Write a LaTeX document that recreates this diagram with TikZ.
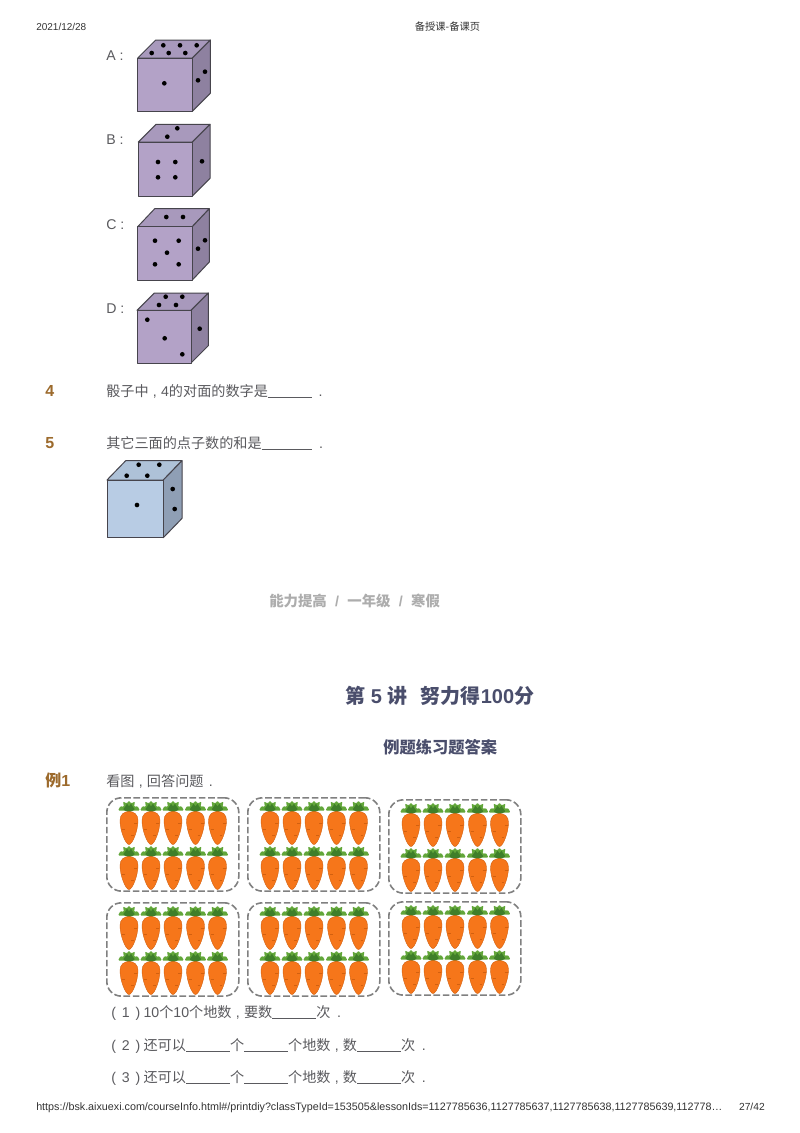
\documentclass[tikz,border=0pt]{standalone}
\usepackage{fontspec}
\setmainfont{Liberation Sans}
\newfontfamily\cjk{Noto Sans CJK SC}
\newcommand{\zh}[1]{{\cjk #1}}
\newcommand{\blankline}[1]{\rule[-1.5pt]{#1}{0.55pt}}
\newcommand{\cm}{\hspace{3.2pt},\hspace{3.2pt}}
\newcommand{\parnum}[1]{(\hspace{4.4pt}#1\hspace{4.4pt})\hspace{2.5pt}}
\definecolor{bodytext}{HTML}{5A5A5E}
\definecolor{brownlabel}{HTML}{9C6A2C}
\definecolor{titleblue}{HTML}{4A4E6C}
\definecolor{edgegrey}{HTML}{46444C}
\definecolor{ptop}{HTML}{A899BC}
\definecolor{pside}{HTML}{8E81A0}
\definecolor{pfront}{HTML}{B3A2C7}
\definecolor{btop}{HTML}{AEC2D8}
\definecolor{bside}{HTML}{8F9FB5}
\definecolor{bfront}{HTML}{B8CCE4}
\definecolor{leafdark}{HTML}{3F7F2A}
\definecolor{leaflight}{HTML}{62A63A}
\definecolor{carrotbody}{HTML}{F6761A}
\definecolor{carrotedge}{HTML}{D2600F}
\tikzset{
  x=0.75pt,y=-0.75pt,
  txt/.style={anchor=base west,inner sep=0pt,text=bodytext,font=\fontsize{10.6pt}{12pt}\selectfont},
  num/.style={anchor=base west,inner sep=0pt,text=brownlabel,font=\bfseries\fontsize{12pt}{14pt}\selectfont},
  small/.style={inner sep=0pt,text=black!80,font=\fontsize{7.7pt}{9pt}\selectfont},
  pip/.style={fill=black,draw=none},
  cubeedge/.style={draw=edgegrey,line width=0.75pt,line join=round},
  groupbox/.style={draw=black!50,line width=1.2pt,dash pattern=on 5pt off 2pt,rounded corners=11pt,
    minimum width=99pt,minimum height=70pt,anchor=north west,inner sep=0pt},
  carrot/.pic={
    \fill[leaflight,rounded corners=0.8pt] (-11,-1) -- (-8.5,-5.5) -- (-5,-4.5) -- (-6,-10) -- (-2,-8) -- (0,-11)
      -- (2,-8) -- (6,-10) -- (5,-4.5) -- (8.5,-5.5) -- (11,-1) -- (3,-1) -- (0,1) -- (-3,-1) -- cycle;
    \fill[leafdark,rounded corners=0.6pt] (-6,-2) -- (-3,-6) -- (-2,-8) -- (0,-5) -- (2,-8) -- (3,-6) -- (6,-2) -- (2,0) -- (-2,0) -- cycle;
    \filldraw[fill=carrotbody,draw=carrotedge,line width=0.3pt]
      (-9,9) .. controls (-9,3) and (-5,0) .. (0,0) .. controls (5,0) and (9,3) .. (9,9)
      .. controls (9,19) and (3.5,33) .. (0,33) .. controls (-3.5,33) and (-9,19) .. (-9,9) -- cycle;
    \draw[carrotedge,line width=0.25pt] (5,12) -- (8,12) (-7,18) -- (-4,18) (2,24) -- (4.5,24);
  }
}
% front x0 y0 x1 y1, back offset dx dy, colours
\newcommand{\diecube}[9]{%
  \filldraw[fill=#7,cubeedge] (#1,#2) -- (#1+#5,#2-#6) -- (#3+#5,#2-#6) -- (#3,#2) -- cycle;
  \filldraw[fill=#8,cubeedge] (#3,#2) -- (#3+#5,#2-#6) -- (#3+#5,#4-#6) -- (#3,#4) -- cycle;
  \filldraw[fill=#9,cubeedge] (#1,#2) rectangle (#3,#4);
}
\newcommand{\pips}[1]{\foreach \px/\py in {#1} {\fill[pip] (\px,\py) circle (1.75pt);}}
\newcommand{\carrotgroup}[3]{%
  \node[groupbox] (#1) at (#2,#3) {};
  \foreach \cx in {23,45,67,89.5,111.5} {
    \pic at (#2+\cx,#3+14.5) {carrot};
    \pic at (#2+\cx,#3+59.5) {carrot};
  }
}
\begin{document}
\begin{tikzpicture}
\useasboundingbox[fill=white] (0,0) rectangle (800,1133);

\node[small,anchor=base west,font=\fontsize{7.5pt}{9pt}\selectfont] (date) at (36,30) {2021/12/28};
\node[small,anchor=base] (hdr) at (447.5,30) {\zh{备授课-备课页}};

% option labels
\node[txt] (la) at (106,60) {A\hspace{3pt}:};
\node[txt] (lb) at (106,144) {B\hspace{3pt}:};
\node[txt] (lc) at (106,229) {C\hspace{3pt}:};
\node[txt] (ld) at (106,313) {D\hspace{3pt}:};

\diecube{137.7}{58}{192.3}{111.3}{18}{18}{ptop}{pside}{pfront}
\pips{163.3/45.3,180/45.3,196.7/45.3,151.7/53,168.7/53,185.3/53,164.3/83.3,205/71.7,198/80.3}

\diecube{138.3}{142}{192.3}{196}{17.7}{17.7}{ptop}{pside}{pfront}
\pips{177.3/128.3,167.3/136.7,158/162,175.3/162,158/177.3,175.3/177.3,202/161.3}

\diecube{137.7}{226.7}{192.3}{280}{17}{18}{ptop}{pside}{pfront}
\pips{166.3/217,183/217,155/240.7,178.7/240.7,167/252.7,155/264.3,178.7/264.3,205/240.3,198/248.7}

\diecube{137}{310.3}{191}{363}{17.3}{17.3}{ptop}{pside}{pfront}
\pips{165.7/296.7,182.3/296.7,159/305,176/305,147.3/319.7,164.7/338.3,182.3/354.3,199.7/328.7}

% questions
\node[num] (q4) at (45,396) {4};
\node[txt] (t4) at (106,396) {\zh{骰子中}\cm 4\zh{的对面的数字是}\blankline{33pt}\hspace{5pt}.};
\node[num] (q5) at (45,448) {5};
\node[txt] (t5) at (106,448) {\zh{其它三面的点子数的和是}\blankline{38pt}\hspace{5pt}.};

\diecube{107}{480}{163.3}{537.7}{18.7}{19.3}{btop}{bside}{bfront}
\pips{138.7/464.7,159.3/464.7,126.7/475.7,147.3/475.7,137/505,172.7/489,174.7/509}

% page footer and next page title
\node[anchor=base west,inner sep=0pt,text=black!32,font=\bfseries\fontsize{10.8pt}{13pt}\selectfont] (foot)
  at (269,606) {\zh{\bfseries 能力提高}\hspace{6.2pt}/\hspace{6.2pt}\zh{\bfseries 一年级}\hspace{6.2pt}/\hspace{6.2pt}\zh{\bfseries 寒假}};
\node[anchor=base west,inner sep=0pt,text=titleblue,font=\bfseries\fontsize{15pt}{18pt}\selectfont] (title)
  at (345,703) {\zh{\bfseries 第} 5 \zh{\bfseries 讲}\hspace{10pt}\zh{\bfseries 努力得}100\zh{\bfseries 分}};
\node[anchor=base west,inner sep=0pt,text=titleblue,font=\bfseries\fontsize{12.2pt}{15pt}\selectfont] (sub)
  at (383,753) {\zh{\bfseries 例题练习题答案}};

\node[num] (ex1) at (45,786) {\zh{\bfseries 例}1};
\node[txt] (ask) at (106,786) {\zh{看图}\cm\zh{回答问题}\hspace{4pt}.};

% carrot groups
\carrotgroup{g1}{106}{797}
\carrotgroup{g2}{247}{797}
\carrotgroup{g3}{388}{799}
\carrotgroup{g4}{106}{902}
\carrotgroup{g5}{247}{902}
\carrotgroup{g6}{388}{901}

% sub questions
\node[txt] (s1) at (111,1017) {\parnum{1}10\zh{个}10\zh{个地数}\cm\zh{要数}\blankline{33pt}\zh{次}\hspace{5pt}.};
\node[txt] (s2) at (111,1050) {\parnum{2}\zh{还可以}\blankline{33pt}\zh{个}\blankline{33pt}\zh{个地数}\cm\zh{数}\blankline{33pt}\zh{次}\hspace{5pt}.};
\node[txt] (s3) at (111,1082) {\parnum{3}\zh{还可以}\blankline{33pt}\zh{个}\blankline{33pt}\zh{个地数}\cm\zh{数}\blankline{33pt}\zh{次}\hspace{5pt}.};

\node[small,anchor=base west,font=\fontsize{8.06pt}{9pt}\selectfont] (url) at (36,1110) {https://bsk.aixuexi.com/courseInfo.html\#/printdiy?classTypeId=153505\&lessonIds=1127785636,1127785637,1127785638,1127785639,112778\dots};
\node[small,anchor=base east] (pg) at (765,1110) {27/42};
\end{tikzpicture}
\end{document}
